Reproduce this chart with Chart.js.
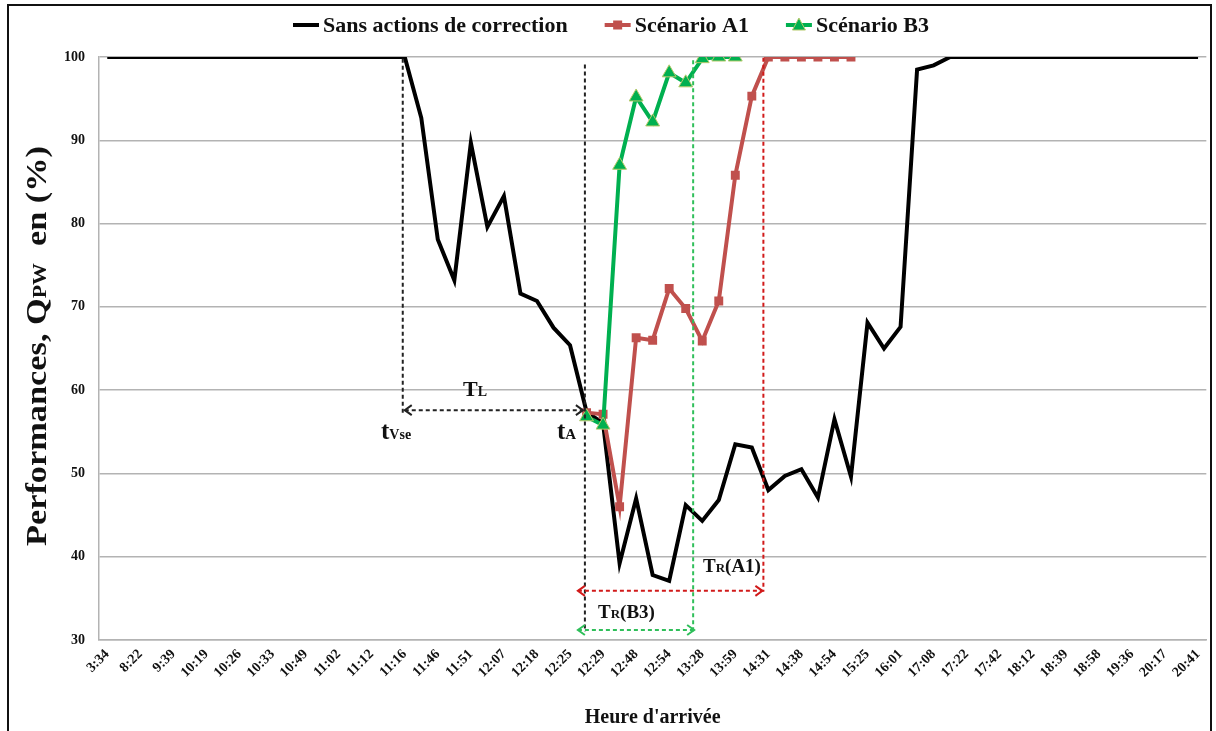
<!DOCTYPE html>
<html>
<head>
<meta charset="utf-8">
<script src="https://cdn.jsdelivr.net/npm/chart.js@4.4.1/dist/chart.umd.min.js"></script>
<style>
  html, body { margin: 0; padding: 0; background: #fff; }
  #cadre { position: absolute; left: 7px; top: 4px; width: 1205px; height: 740px; border: 2px solid #111; box-sizing: border-box; }
  canvas { position: absolute; left: 0; top: 0; }
</style>
</head>
<body>
<div id="cadre"></div>
<canvas id="chart-perf" width="1216" height="731"></canvas>
<script>
// heures affichées (une catégorie sur deux)
var heures = ['3:34','8:22','9:39','10:19','10:26','10:33','10:49','11:02','11:12','11:16','11:46','11:51',
  '12:07','12:18','12:25','12:29','12:48','12:54','13:28','13:59','14:31','14:38','14:54','15:25','16:01',
  '17:08','17:22','17:42','18:12','18:39','18:58','19:36','20:17','20:41'];

var sansCorrection = [100,100,100,100,100,100,100,100,100,100,100,100,100,100,100,100,100,100,100,
  92.7,78.1,73.2,89.7,79.6,83.3,71.6,70.7,67.5,65.4,57.4,56.0,39.2,47.0,37.8,37.1,46.2,44.3,46.8,
  53.5,53.1,48.0,49.7,50.5,47.1,56.5,49.6,68.1,65.0,67.6,98.5,99.0,
  100,100,100,100,100,100,100,100,100,100,100,100,100,100,100,100];

var debutA1 = 29;
var scenarioA1 = [57.3,57.1,46.0,66.3,66.0,72.2,69.8,65.9,70.7,85.8,95.3,100,100,100,100,100,100];
var debutB3 = 29;
var scenarioB3 = [56.8,55.8,87.0,95.2,92.2,98.1,96.9,99.8,100,100];

var yTicks = [30,40,50,60,70,80,90,100];

var nbCat = sansCorrection.length;
var labels = [];
for (var i = 0; i < nbCat; i++) labels.push(i % 2 === 0 ? heures[i / 2] : '');

function placer(debut, valeurs){
  var out = [];
  for (var i = 0; i < nbCat; i++) {
    var k = i - debut;
    out.push(k >= 0 && k < valeurs.length ? valeurs[k] : null);
  }
  return out;
}

var SERIF = '"Liberation Serif", "Times New Roman", serif';

// repères (en index de catégorie / valeur de l'axe y)
var tVse = 18, tA = 28.9, finB3 = 35.45, finA1 = 39.7;
var yTL = 57.6, yA1 = 35.9, yB3 = 31.2;

function fleche(ctx, x1, x2, y, col){
  ctx.save();
  ctx.strokeStyle = col;
  ctx.lineWidth = 2;
  ctx.setLineDash([4, 3]);
  ctx.beginPath(); ctx.moveTo(x1 + 1, y); ctx.lineTo(x2 - 1, y); ctx.stroke();
  ctx.setLineDash([]);
  ctx.beginPath();
  ctx.moveTo(x1 + 8, y - 5); ctx.lineTo(x1 + 1, y); ctx.lineTo(x1 + 8, y + 5);
  ctx.moveTo(x2 - 8, y - 5); ctx.lineTo(x2 - 1, y); ctx.lineTo(x2 - 8, y + 5);
  ctx.stroke();
  ctx.restore();
}
function vertical(ctx, x, y1, y2, col){
  ctx.save();
  ctx.strokeStyle = col;
  ctx.lineWidth = 2;
  ctx.setLineDash([4, 3]);
  ctx.beginPath(); ctx.moveTo(x, y1); ctx.lineTo(x, y2); ctx.stroke();
  ctx.restore();
}
// texte de type "T" + "L" petites capitales
function texteIndice(ctx, x, y, parts){
  ctx.save();
  ctx.fillStyle = '#111';
  ctx.textBaseline = 'alphabetic';
  ctx.textAlign = 'left';
  parts.forEach(function(p){
    ctx.font = 'bold ' + p[1] + 'px ' + SERIF;
    ctx.fillText(p[0], x, y);
    x += ctx.measureText(p[0]).width;
  });
  ctx.restore();
}

var annotations = {
  id: 'annotations',
  afterDatasetsDraw: function(chart){
    var ctx = chart.ctx, sx = chart.scales.x, sy = chart.scales.y;
    var xV = sx.getPixelForValue(tVse) - 2, xA = sx.getPixelForValue(tA);
    var xB = sx.getPixelForValue(finB3), xR = sx.getPixelForValue(finA1);
    vertical(ctx, xV, sy.getPixelForValue(99.8), sy.getPixelForValue(57.0), '#222');
    vertical(ctx, xA, sy.getPixelForValue(99.1), sy.getPixelForValue(31.0), '#222');
    vertical(ctx, xB, sy.getPixelForValue(99.6), sy.getPixelForValue(31.0), '#2fbf5a');
    vertical(ctx, xR, sy.getPixelForValue(99.9), sy.getPixelForValue(35.8), '#d11a1a');
    fleche(ctx, xV + 1, xA - 1, sy.getPixelForValue(yTL), '#222');
    fleche(ctx, xA - 8, xR, sy.getPixelForValue(yA1), '#d11a1a');
    fleche(ctx, xA - 8, xB + 2, sy.getPixelForValue(yB3), '#2fbf5a');
    texteIndice(ctx, 463, 396, [['T', 22], ['L', 14]]);
    texteIndice(ctx, 381, 439, [['t', 25], ['Vse', 14]]);
    texteIndice(ctx, 557, 439, [['t', 25], ['A', 15]]);
    texteIndice(ctx, 598, 618, [['T', 19], ['R', 13], ['(B3)', 19]]);
    texteIndice(ctx, 703, 572, [['T', 19], ['R', 13], ['(A1)', 19]]);
  },
  afterDraw: function(chart){
    var ctx = chart.ctx;
    // titre de l'axe y : Performances, QPW en (%)
    var parts = [['Performances, Q', 30], ['PW', 19], ['  en (%)', 30]];
    ctx.save();
    var w = 0;
    parts.forEach(function(p){ ctx.font = 'bold ' + p[1] + 'px ' + SERIF; w += ctx.measureText(p[0]).width; });
    ctx.translate(46, 346);
    ctx.rotate(-Math.PI / 2);
    ctx.scale(400 / w, 1);
    ctx.fillStyle = '#111';
    ctx.textBaseline = 'alphabetic';
    var x = -w / 2;
    parts.forEach(function(p){
      ctx.font = 'bold ' + p[1] + 'px ' + SERIF;
      ctx.fillText(p[0], x, 0);
      x += ctx.measureText(p[0]).width;
    });
    ctx.restore();

    // titre de l'axe x
    ctx.save();
    ctx.font = 'bold 20px ' + SERIF;
    ctx.fillStyle = '#111';
    ctx.textAlign = 'center';
    ctx.textBaseline = 'middle';
    ctx.fillText("Heure d'arrivée", (chart.chartArea.left + chart.chartArea.right) / 2, 718);
    ctx.restore();

    // légende
    ctx.save();
    ctx.font = 'bold 22px ' + SERIF;
    var items = chart.data.datasets.map(function(d){ return d; });
    var total = 0;
    items.forEach(function(d, i){ total += 26 + 4 + ctx.measureText(d.label).width + (i < items.length - 1 ? 37 : 0); });
    var lx = 611 - total / 2, ly = 25;
    items.forEach(function(d){
      ctx.strokeStyle = d.borderColor;
      ctx.lineWidth = 4;
      ctx.beginPath(); ctx.moveTo(lx, ly); ctx.lineTo(lx + 26, ly); ctx.stroke();
      var cx = lx + 13;
      if (d.pointStyle === 'rect') {
        ctx.fillStyle = d.borderColor;
        ctx.fillRect(cx - 4.5, ly - 4.5, 9, 9);
      } else if (d.pointStyle === 'triangle') {
        ctx.fillStyle = d.pointBackgroundColor;
        ctx.strokeStyle = d.pointBorderColor;
        ctx.lineWidth = 1;
        ctx.beginPath(); ctx.moveTo(cx, ly - 7); ctx.lineTo(cx + 6.5, ly + 5); ctx.lineTo(cx - 6.5, ly + 5); ctx.closePath();
        ctx.fill(); ctx.stroke();
      }
      ctx.fillStyle = '#111';
      ctx.textBaseline = 'middle';
      ctx.fillText(d.label, lx + 30, ly + 1);
      lx += 30 + ctx.measureText(d.label).width + 37;
    });
    ctx.restore();
  }
};

var ctx = document.getElementById('chart-perf').getContext('2d');
new Chart(ctx, {
  type: 'line',
  data: {
    labels: labels,
    datasets: [{
      label: 'Sans actions de correction',
      data: sansCorrection,
      borderColor: '#000',
      backgroundColor: '#000',
      borderWidth: 4,
      pointRadius: 0,
      tension: 0,
      order: 2
    }, {
      label: 'Scénario A1',
      data: placer(debutA1, scenarioA1),
      borderColor: '#c0504d',
      backgroundColor: '#c0504d',
      pointBackgroundColor: '#c0504d',
      pointBorderColor: '#c0504d',
      pointStyle: 'rect',
      pointRadius: 6.3,
      pointBorderWidth: 0,
      borderWidth: 4,
      tension: 0,
      order: 1
    }, {
      label: 'Scénario B3',
      data: placer(debutB3, scenarioB3),
      borderColor: '#00b050',
      backgroundColor: '#00b050',
      pointBackgroundColor: '#00b050',
      pointBorderColor: '#b5c96a',
      pointStyle: 'triangle',
      pointRadius: 8,
      pointBorderWidth: 1,
      borderWidth: 4,
      tension: 0,
      order: 0
    }]
  },
  options: {
    responsive: false,
    animation: false,
    devicePixelRatio: 1,
    layout: { padding: { top: 57, right: 8, left: 0, bottom: 0 } },
    plugins: {
      legend: { display: false },
      tooltip: { enabled: false }
    },
    scales: {
      x: {
        offset: true,
        afterFit: function(s){ s.height = 91; },
        grid: { display: false, drawTicks: false },
        border: { display: true, color: '#b3b3b3', width: 1.5 },
        ticks: {
          autoSkip: false,
          maxRotation: 45,
          minRotation: 45,
          padding: 6,
          color: '#111',
          font: { size: 14, weight: 'bold', family: SERIF }
        }
      },
      y: {
        min: 30,
        max: 100,
        afterFit: function(s){ s.width = 99; },
        afterBuildTicks: function(s){ s.ticks = yTicks.map(function(v){ return { value: v }; }); },
        grid: { color: '#b3b3b3', lineWidth: 1.5, drawTicks: false },
        border: { display: true, color: '#b3b3b3', width: 1.5 },
        ticks: {
          padding: 14,
          color: '#111',
          font: { size: 14, weight: 'bold', family: SERIF }
        }
      }
    }
  },
  plugins: [annotations]
});
</script>
</body>
</html>
